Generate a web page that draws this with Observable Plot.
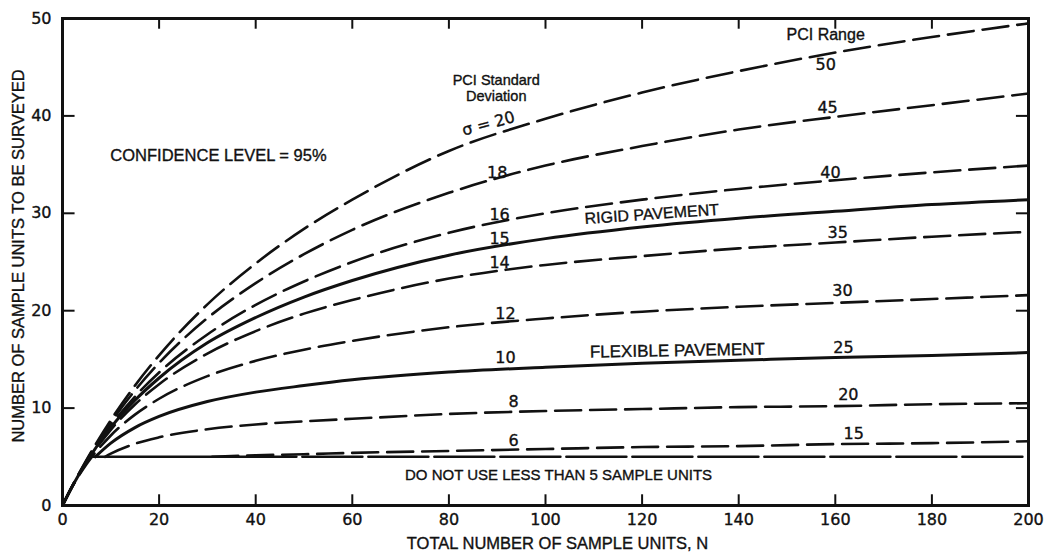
<!DOCTYPE html>
<html>
<head>
<meta charset="utf-8">
<script src="https://cdn.jsdelivr.net/npm/d3@7"></script>
<script src="https://cdn.jsdelivr.net/npm/@observablehq/plot@0.6"></script>
<style>
  html, body { margin: 0; padding: 0; background: #fff; }
  #chart svg { display: block; }
  #chart svg text { stroke: #111; stroke-width: 0.35px; }
</style>
</head>
<body>
<div id="chart"></div>
<script>
// ---- Data ----
// Total number of sample units N (x) for the curves starting at the origin
const N = [0, 2, 5, 10, 15, 20, 30, 40, 50, 60, 80, 100, 120, 140, 160, 180, 200];
// Number of sample units to survey, per PCI standard deviation (σ)
const sd20 = [0, 1.97, 4.71, 8.77, 12.31, 15.42, 20.65, 24.85, 28.4, 31.4, 36.4, 39.7, 42.4, 44.6, 46.5, 48.1, 49.5];
const sd18 = [0, 1.96, 4.64, 8.52, 11.81, 14.64, 19.24, 22.83, 25.8, 28.3, 32.1, 34.9, 36.9, 38.6, 39.9, 41.1, 42.3];
const sd16 = [0, 1.95, 4.56, 8.2, 11.18, 13.66, 17.56, 20.6, 23.0, 25.0, 28.0, 30.0, 31.4, 32.5, 33.4, 34.2, 34.9];
const sd15 = [0, 1.95, 4.5, 8.0, 10.8, 13.09, 16.7, 19.3, 21.4, 23.1, 25.7, 27.4, 28.6, 29.5, 30.2, 30.9, 31.4]; // rigid pavement
const sd14 = [0, 1.94, 4.43, 7.77, 10.37, 12.45, 15.6, 17.9, 19.7, 21.1, 23.3, 24.7, 25.6, 26.4, 27.0, 27.6, 28.1];
const sd12 = [0, 1.92, 4.26, 7.19, 9.33, 10.96, 13.28, 14.85, 16.0, 16.9, 18.3, 19.2, 19.9, 20.4, 20.8, 21.2, 21.6];
// Curves that leave the 5-unit floor
const N10 = [6.8, 10, 15, 20, 30, 40, 50, 60, 80, 100, 120, 140, 160, 180, 200];
const sd10 = [5.0, 6.4, 8.0, 9.14, 10.67, 11.64, 12.31, 12.9, 13.7, 14.2, 14.6, 14.9, 15.2, 15.4, 15.7]; // flexible pavement
const N8 = [8.8, 10, 15, 20, 30, 40, 50, 60, 80, 100, 120, 140, 160, 180, 200];
const sd8 = [5.0, 5.32, 6.34, 7.0, 7.83, 8.32, 8.64, 8.9, 9.4, 9.7, 9.9, 10.1, 10.2, 10.4, 10.5];
const N6 = [31, 40, 50, 60, 80, 100, 120, 140, 160, 180, 200];
const sd6 = [5.0, 5.15, 5.26, 5.4, 5.6, 5.8, 6.0, 6.1, 6.3, 6.4, 6.6];
// Minimum of 5 sample units
const floorN = [5.6, 36, 200];
const floorValue = 5;

// Axis ticks
const xTicks = [0, 20, 40, 60, 80, 100, 120, 140, 160, 180, 200];
const yTicks = [0, 10, 20, 30, 40, 50];

// Curve labels: σ values and PCI ranges, anchored in data units
const sdLabelText = ["18", "16", "15", "14", "12", "10", "8", "6"];
const sdLabelN = [90, 90.5, 90.5, 90.5, 91.7, 91.7, 93.4, 93.4];
const sdLabelY = [34.2, 29.8, 27.4, 24.9, 19.7, 15.2, 10.6, 6.6];
const rangeText = ["50", "45", "40", "35", "30", "25", "20", "15"];
const rangeN = [158, 158.4, 159, 160.5, 161.5, 161.7, 162.7, 163.8];
const rangeY = [45.2, 40.8, 34.2, 28.0, 22.0, 16.2, 11.4, 7.4];

// ---- Build tables ----
const table = (xs, ys) => xs.map((x, i) => ({N: x, n: ys[i]}));
const dashed = [
  table(N, sd20), table(N, sd18), table(N, sd16), table(N, sd14),
  table(N, sd12), table(N8, sd8), table(N6, sd6)
];
const solid = [table(N, sd15), table(N10, sd10)];

const font = "'Liberation Sans', Arial, sans-serif";
const digits = "'DejaVu Sans', 'Liberation Sans', sans-serif";
const ink = "#111";

const marks = [];
for (const d of dashed) {
  marks.push(Plot.line(d, {x: "N", y: "n", curve: "monotone-x", stroke: ink, strokeWidth: 2.6, strokeDasharray: "26,9"}));
}
for (const d of solid) {
  marks.push(Plot.line(d, {x: "N", y: "n", curve: "monotone-x", stroke: ink, strokeWidth: 3}));
}
// floor line: solid first part, long dashes after
marks.push(Plot.line([{N: floorN[0], n: floorValue}, {N: floorN[1], n: floorValue}], {x: "N", y: "n", stroke: ink, strokeWidth: 2.6}));
marks.push(Plot.line([{N: floorN[1], n: floorValue}, {N: floorN[2], n: floorValue}], {x: "N", y: "n", stroke: ink, strokeWidth: 2.6, strokeDasharray: "60,6"}));

// inward ticks
marks.push(Plot.ruleX(xTicks.slice(1, -1), {x: d => d, y1: 0, y2: 1.1, stroke: ink, strokeWidth: 2}));
marks.push(Plot.ruleX(xTicks.slice(1, -1), {x: d => d, y1: 50, y2: 48.9, stroke: ink, strokeWidth: 2}));
marks.push(Plot.ruleY(yTicks.slice(1, -1), {y: d => d, x1: 0, x2: 2.6, stroke: ink, strokeWidth: 2}));
marks.push(Plot.ruleY(yTicks.slice(1, -1), {y: d => d, x1: 200, x2: 197.5, stroke: ink, strokeWidth: 2}));

marks.push(Plot.frame({stroke: ink, strokeWidth: 3}));

// axes (labels only)
marks.push(Plot.axisX(xTicks, {tickSize: 0, tickPadding: 8, fontSize: 16, fontFamily: digits, label: null, fill: ink}));
marks.push(Plot.axisY(yTicks, {tickSize: 0, tickPadding: 11, fontSize: 16, fontFamily: digits, label: null, fill: ink}));

// axis titles
marks.push(Plot.text(["TOTAL NUMBER OF SAMPLE UNITS, N"], {frameAnchor: "bottom", dx: 12, dy: 43, fontSize: 16.5, fill: ink}));
marks.push(Plot.text(["NUMBER OF SAMPLE UNITS TO BE SURVEYED"], {frameAnchor: "left", textAnchor: "middle", rotate: -90, dx: -44, dy: -6, fontSize: 16.5, fill: ink}));

// annotations
marks.push(Plot.text(sdLabelText, {x: (d, i) => sdLabelN[i], y: (d, i) => sdLabelY[i], text: d => d, fontSize: 16, fontFamily: digits, fill: ink}));
marks.push(Plot.text(rangeText, {x: (d, i) => rangeN[i], y: (d, i) => rangeY[i], text: d => d, fontSize: 16, fontFamily: digits, fill: ink}));
marks.push(Plot.text(["σ = 20"], {x: 88.2, y: 39.2, rotate: -15, fontSize: 16, fontFamily: digits, fill: ink}));
marks.push(Plot.text(["PCI Standard"], {x: 89.8, y: 43.7, fontSize: 14.5, fill: ink}));
marks.push(Plot.text(["Deviation"], {x: 89.8, y: 42.0, fontSize: 14.5, fill: ink}));
marks.push(Plot.text(["PCI Range"], {x: 158, y: 48.3, fontSize: 16, fill: ink}));
marks.push(Plot.text(["CONFIDENCE LEVEL = 95%"], {x: 9.9, y: 35.9, textAnchor: "start", fontSize: 16.5, fill: ink}));
marks.push(Plot.text(["RIGID PAVEMENT"], {x: 122, y: 29.9, rotate: -4, fontSize: 16, fill: ink}));
marks.push(Plot.text(["FLEXIBLE PAVEMENT"], {x: 127.3, y: 15.9, rotate: -1, fontSize: 17, fill: ink}));
marks.push(Plot.text(["DO NOT USE LESS THAN 5 SAMPLE UNITS"], {x: 102.7, y: 3.1, fontSize: 15, fill: ink}));

const chart = Plot.plot({
  width: 1046,
  height: 556,
  marginLeft: 62,
  marginRight: 18,
  marginTop: 18,
  marginBottom: 51,
  style: {fontFamily: font, background: "#fff", color: ink, overflow: "visible"},
  x: {domain: [0, 200]},
  y: {domain: [0, 50]},
  marks
});
document.getElementById("chart").appendChild(chart);
</script>
</body>
</html>
